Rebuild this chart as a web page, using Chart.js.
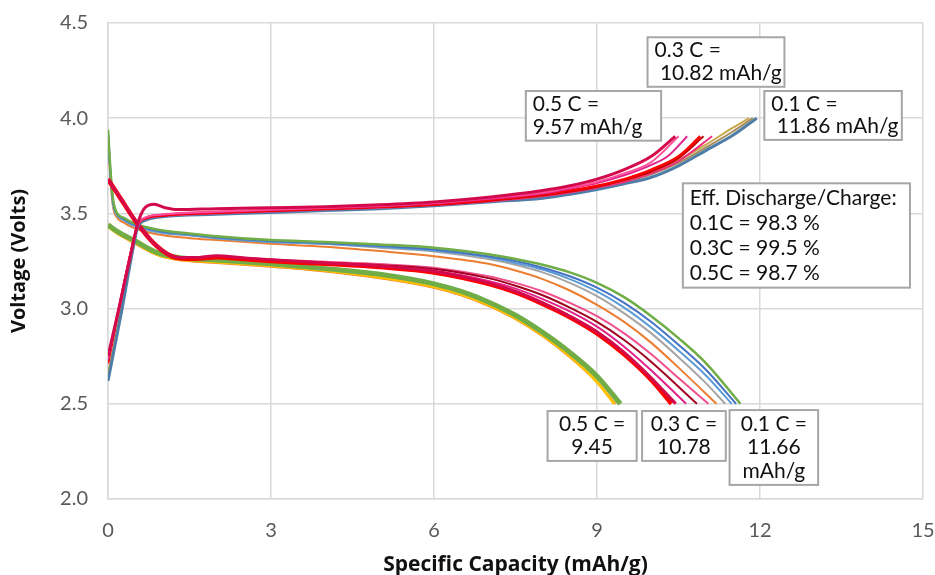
<!DOCTYPE html>
<html>
<head>
<meta charset="utf-8">
<script src="https://cdn.jsdelivr.net/npm/chart.js@4.4.1/dist/chart.umd.min.js"></script>
<style>
  html, body { margin: 0; padding: 0; background: #fff; }
  #wrap { width: 935px; height: 575px; }
</style>
</head>
<body>
<div id="wrap"><canvas id="myChart" width="935" height="575"></canvas></div>
<script>
// axis ticks
const xTicks = [0, 3, 6, 9, 12, 15];
const yTicks = [2.0, 2.5, 3.0, 3.5, 4.0, 4.5];

// ---- 0.1 C discharge curves [capacity, voltage]
const dis01Green = [[0,3.94],[0.04,3.75],[0.09,3.58],[0.15,3.51],[0.3,3.475],[0.46,3.45],[0.9,3.415],[1.5,3.395],[2,3.38],[3,3.36],[4,3.35],[5,3.337],[6,3.32],[7,3.285],[7.5,3.26],[8,3.23],[8.5,3.19],[9,3.135],[9.5,3.06],[10,2.96],[10.5,2.845],[11,2.715],[11.64,2.5]];
const dis01Blue = [[0,3.93],[0.04,3.74],[0.09,3.57],[0.15,3.505],[0.3,3.47],[0.46,3.445],[0.9,3.41],[1.5,3.39],[2,3.375],[3,3.355],[4,3.345],[5,3.33],[6,3.31],[7,3.275],[7.5,3.25],[8,3.215],[8.5,3.17],[9,3.11],[9.5,3.03],[10,2.93],[10.5,2.81],[11,2.68],[11.56,2.5]];
const dis01Sky = [[0,3.92],[0.04,3.73],[0.09,3.56],[0.15,3.5],[0.3,3.465],[0.46,3.44],[0.9,3.405],[1.5,3.385],[2,3.37],[3,3.35],[4,3.34],[5,3.325],[6,3.305],[7,3.27],[7.5,3.24],[8,3.205],[8.5,3.155],[9,3.09],[9.5,3.005],[10,2.9],[10.5,2.78],[11,2.65],[11.48,2.5]];
const dis01Gray = [[0,3.92],[0.04,3.72],[0.09,3.55],[0.15,3.495],[0.3,3.46],[0.46,3.435],[0.9,3.4],[1.5,3.385],[2,3.37],[3,3.35],[4,3.34],[5,3.32],[6,3.3],[7,3.26],[7.5,3.23],[8,3.19],[8.5,3.135],[9,3.065],[9.5,2.975],[10,2.87],[10.5,2.745],[11,2.61],[11.36,2.5]];
const dis01Orange = [[0,3.9],[0.04,3.7],[0.09,3.54],[0.15,3.485],[0.3,3.45],[0.46,3.425],[0.9,3.39],[1.5,3.37],[2,3.36],[3,3.34],[4,3.325],[5,3.302],[6,3.275],[7,3.235],[7.5,3.2],[8,3.155],[8.5,3.095],[9,3.02],[9.5,2.93],[10,2.82],[10.5,2.69],[11.2,2.5]];

// ---- 0.3 C discharge curves
const dis03Red = [[0,3.68],[0.25,3.57],[0.53,3.45],[0.89,3.33],[1.26,3.267],[1.6,3.262],[2,3.27],[2.5,3.26],[3,3.25],[4,3.235],[5,3.218],[6,3.19],[7,3.13],[7.5,3.085],[8,3.025],[8.5,2.955],[9,2.87],[9.5,2.76],[10,2.625],[10.37,2.5]];
const dis03Crimson = [[0,3.68],[0.25,3.572],[0.53,3.452],[0.89,3.332],[1.26,3.27],[1.6,3.268],[2,3.277],[2.5,3.266],[3,3.256],[4,3.24],[5,3.223],[6,3.195],[7,3.135],[7.5,3.09],[8,3.03],[8.5,2.96],[9,2.878],[9.5,2.77],[10,2.635],[10.45,2.5]];
const dis03Magenta = [[0,3.67],[0.25,3.565],[0.53,3.448],[0.89,3.33],[1.26,3.268],[1.6,3.265],[2,3.272],[2.5,3.262],[3,3.252],[4,3.238],[5,3.224],[6,3.2],[7,3.145],[7.5,3.105],[8,3.05],[8.5,2.985],[9,2.905],[9.5,2.8],[10,2.675],[10.64,2.5]];
const dis03Maroon = [[0,3.67],[0.25,3.565],[0.53,3.448],[0.89,3.33],[1.26,3.268],[1.6,3.266],[2,3.273],[2.5,3.263],[3,3.254],[4,3.24],[5,3.228],[6,3.208],[7,3.16],[7.5,3.12],[8,3.07],[8.5,3.005],[9,2.93],[9.5,2.835],[10,2.72],[10.84,2.5]];
const dis03Pink = [[0,3.67],[0.25,3.565],[0.53,3.45],[0.89,3.332],[1.26,3.27],[1.6,3.268],[2,3.276],[2.5,3.266],[3,3.258],[4,3.246],[5,3.234],[6,3.215],[7,3.17],[7.5,3.135],[8,3.09],[8.5,3.03],[9,2.96],[9.5,2.87],[10,2.76],[10.5,2.635],[11.05,2.5]];

// ---- 0.5 C discharge curves
const dis05Green = [[0,3.44],[0.2,3.4],[0.47,3.36],[0.9,3.295],[1.26,3.27],[2,3.255],[3,3.235],[4,3.21],[5,3.18],[6,3.13],[6.5,3.09],[7,3.035],[7.5,2.965],[8,2.875],[8.5,2.77],[9,2.645],[9.43,2.5]];
const dis05Gold = [[0,3.43],[0.2,3.39],[0.47,3.35],[0.9,3.285],[1.26,3.26],[2,3.245],[3,3.225],[4,3.2],[5,3.165],[6,3.115],[6.5,3.075],[7,3.02],[7.5,2.95],[8,2.86],[8.5,2.75],[9,2.615],[9.32,2.5]];
const dis05Orange = [[0,3.43],[0.2,3.388],[0.47,3.345],[0.9,3.282],[1.26,3.256],[2,3.24],[3,3.22],[4,3.195],[5,3.16],[6,3.11],[6.5,3.07],[7,3.015],[7.5,2.945],[8,2.855],[8.5,2.745],[9,2.615],[9.34,2.5]];

// ---- charge curves
const chg01Steel = [[0,2.62],[0.26,3.0],[0.45,3.3],[0.55,3.43],[0.7,3.465],[1,3.483],[2,3.495],[3,3.505],[4,3.515],[5,3.525],[6,3.54],[7,3.56],[8,3.58],[8.5,3.6],[9,3.625],[9.5,3.655],[10,3.69],[10.5,3.75],[11,3.83],[11.5,3.91],[11.94,4.0]];
const chg01Gold = [[0,2.66],[0.24,3.0],[0.44,3.3],[0.55,3.435],[0.7,3.47],[1,3.488],[2,3.5],[3,3.51],[4,3.52],[5,3.53],[6,3.545],[7,3.565],[8,3.59],[8.5,3.61],[9,3.64],[9.5,3.675],[10,3.72],[10.5,3.78],[11,3.86],[11.5,3.95],[11.8,4.0]];
const chg01Tan = [[0,2.64],[0.25,3.0],[0.45,3.3],[0.55,3.432],[0.7,3.468],[1,3.486],[2,3.498],[3,3.508],[4,3.518],[5,3.528],[6,3.542],[7,3.562],[8,3.585],[8.5,3.605],[9,3.632],[9.5,3.665],[10,3.705],[10.5,3.765],[11,3.845],[11.5,3.93],[11.87,4.0]];
const chg03Crimson = [[0,2.75],[0.2,3.0],[0.4,3.26],[0.55,3.45],[0.68,3.53],[0.85,3.548],[1.05,3.53],[1.3,3.52],[2,3.525],[3,3.53],[4,3.535],[5,3.545],[6,3.56],[7,3.585],[8,3.62],[8.5,3.645],[9,3.68],[9.5,3.73],[10,3.8],[10.44,3.905]];
const chg03Pink = [[0,2.74],[0.2,3.0],[0.4,3.27],[0.55,3.44],[0.7,3.48],[1,3.495],[2,3.51],[3,3.52],[4,3.53],[5,3.54],[6,3.555],[7,3.58],[8,3.61],[8.5,3.635],[9,3.665],[9.5,3.71],[10,3.77],[10.5,3.905]];
const chg03Magenta = [[0,2.73],[0.2,3.0],[0.4,3.27],[0.55,3.44],[0.7,3.478],[1,3.493],[2,3.508],[3,3.518],[4,3.528],[5,3.538],[6,3.552],[7,3.575],[8,3.605],[8.5,3.63],[9,3.66],[9.5,3.7],[10,3.755],[10.3,3.8],[10.66,3.905]];
const chg03Red = [[0,2.72],[0.2,3.0],[0.4,3.27],[0.55,3.44],[0.7,3.476],[1,3.49],[2,3.505],[3,3.515],[4,3.525],[5,3.535],[6,3.548],[7,3.57],[8,3.6],[8.5,3.62],[9,3.645],[9.5,3.68],[10,3.73],[10.5,3.8],[10.9,3.905]];
const chg03Maroon = [[0,2.72],[0.2,3.0],[0.4,3.27],[0.55,3.44],[0.7,3.474],[1,3.488],[2,3.503],[3,3.513],[4,3.523],[5,3.533],[6,3.546],[7,3.567],[8,3.595],[8.5,3.615],[9,3.64],[9.5,3.675],[10,3.72],[10.5,3.79],[10.96,3.905]];
const chg03Rose = [[0,2.71],[0.2,3.0],[0.4,3.27],[0.55,3.44],[0.7,3.472],[1,3.486],[2,3.5],[3,3.51],[4,3.52],[5,3.53],[6,3.543],[7,3.563],[8,3.59],[8.5,3.61],[9,3.635],[9.5,3.665],[10,3.71],[10.5,3.775],[11.12,3.905]];

// text boxes (data coords)
const notes = [
    {x1: 9.93, y1: 4.425, x2: 12.45, y2: 4.165, align: 'left', lines: ['0.3 C =', ' 10.82 mAh/g']},
    {x1: 7.69, y1: 4.143, x2: 10.18, y2: 3.882, align: 'left', lines: ['0.5 C =', '9.57 mAh/g']},
    {x1: 12.08, y1: 4.143, x2: 14.61, y2: 3.886, align: 'left', lines: ['0.1 C =', ' 11.86 mAh/g']},
    {x1: 10.58, y1: 3.658, x2: 14.76, y2: 3.110, align: 'left', lines: ['Eff. Discharge/Charge:', '0.1C = 98.3 %', '0.3C = 99.5 %', '0.5C = 98.7 %']},
    {x1: 8.09, y1: 2.462, x2: 9.73, y2: 2.200, align: 'center', lines: ['0.5 C =', '9.45']},
    {x1: 9.83, y1: 2.462, x2: 11.37, y2: 2.200, align: 'center', lines: ['0.3 C =', '10.78']},
    {x1: 11.44, y1: 2.467, x2: 13.07, y2: 2.074, align: 'center', lines: ['0.1 C =', '11.66', 'mAh/g']}
];

// draw order: first = bottom
const curves = [
    [dis05Orange, '#ED7D31', 2], [dis05Gold, '#FFC000', 3], [dis05Green, '#70AD47', 5],
    [dis01Orange, '#ED7D31', 2], [dis01Gray, '#A5A5A5', 2], [dis01Sky, '#5B9BD5', 2], [dis01Blue, '#4472C4', 2], [dis01Green, '#70AD47', 2.5],
    [dis03Pink, '#F0508C', 2], [dis03Maroon, '#A0001E', 2], [dis03Magenta, '#E0218A', 2], [dis03Red, '#FF0000', 4.5], [dis03Crimson, '#D20A4B', 3],
    [chg01Gold, '#C9A84C', 2], [chg01Tan, '#A68D5E', 2], [chg01Steel, '#4E7EA6', 3],
    [chg03Rose, '#F0307A', 2], [chg03Maroon, '#C00000', 2], [chg03Red, '#FF0000', 2.5], [chg03Magenta, '#E0218A', 2], [chg03Pink, '#FF4F9A', 2], [chg03Crimson, '#D20A4B', 3]
];

const datasets = curves.map(function(c, i) {
    return {
        data: c[0].map(function(p) { return {x: p[0], y: p[1]}; }),
        borderColor: c[1],
        borderWidth: c[2],
        pointRadius: 0,
        fill: false,
        cubicInterpolationMode: 'monotone',
        order: curves.length - i
    };
});

const notesPlugin = {
    id: 'notes',
    afterDatasetsDraw: function(chart) {
        const ctx = chart.ctx;
        const xs = chart.scales.x, ys = chart.scales.y;
        ctx.save();
        ctx.font = '21px Lato';
        ctx.textBaseline = 'middle';
        notes.forEach(function(n) {
            const l = xs.getPixelForValue(n.x1), r = xs.getPixelForValue(n.x2);
            const t = ys.getPixelForValue(n.y1), b = ys.getPixelForValue(n.y2);
            ctx.fillStyle = '#fff';
            ctx.fillRect(l, t, r - l, b - t);
            ctx.strokeStyle = '#A6A6A6';
            ctx.lineWidth = 2;
            ctx.strokeRect(l, t, r - l, b - t);
            ctx.fillStyle = '#111';
            ctx.textAlign = n.align;
            const lh = (b - t - 4) / n.lines.length;
            n.lines.forEach(function(s, k) {
                const tx = n.align === 'center' ? (l + r) / 2 : l + 7;
                ctx.fillText(s, tx, t + 2 + lh * (k + 0.5));
            });
        });
        ctx.restore();
    }
};

const ctx = document.getElementById('myChart').getContext('2d');
const myChart = new Chart(ctx, {
    type: 'line',
    data: { datasets: datasets },
    options: {
        responsive: false,
        animation: false,
        layout: { padding: { left: 0, right: 12, top: 23, bottom: 0 } },
        plugins: { legend: { display: false }, tooltip: { enabled: false } },
        scales: {
            x: {
                type: 'linear', min: 0, max: 15,
                afterBuildTicks: function(s) { s.ticks = xTicks.map(function(v) { return {value: v}; }); },
                afterFit: function(s) { s.height = 76; s.paddingLeft = 0; s.paddingRight = 0; },
                grid: { color: '#D9D9D9', lineWidth: 1.5, drawTicks: false },
                border: { color: '#D9D9D9', width: 1.5 },
                ticks: { padding: 20, color: '#595959', font: { family: 'Lato', size: 20 } },
                title: { display: true, text: 'Specific Capacity (mAh/g)', color: '#111', font: { family: 'Open Sans', size: 21, weight: 'bold' }, padding: { top: 0, bottom: -3 } }
            },
            y: {
                type: 'linear', min: 2, max: 4.5,
                afterBuildTicks: function(s) { s.ticks = yTicks.map(function(v) { return {value: v}; }); },
                afterFit: function(s) { s.width = 108; s.paddingTop = 0; s.paddingBottom = 0; },
                grid: { color: '#D9D9D9', lineWidth: 1.5, drawTicks: false },
                border: { color: '#D9D9D9', width: 1.5 },
                ticks: { padding: 20, color: '#595959', font: { family: 'Lato', size: 20 }, callback: function(v) { return v.toFixed(1); } },
                title: { display: true, text: 'Voltage (Volts)', color: '#111', font: { family: 'Open Sans', size: 20, weight: 'bold' }, padding: { top: 7, bottom: 0 } }
            }
        }
    },
    plugins: [notesPlugin]
});
</script>
</body>
</html>
